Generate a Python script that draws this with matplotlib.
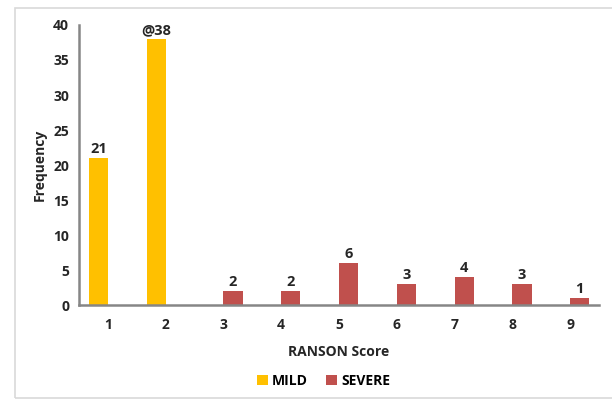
import matplotlib
matplotlib.use('Agg')
import matplotlib.pyplot as plt
from matplotlib.patches import Rectangle
import numpy as np

# RANSON score frequencies
scores = [1, 2, 3, 4, 5, 6, 7, 8, 9]
mild = [21, 38, 0, 0, 0, 0, 0, 0, 0]
severe = [0, 0, 2, 2, 6, 3, 4, 3, 1]
mild_labels = ['21', '@38', '', '', '', '', '', '', '']
severe_labels = ['', '', '2', '2', '6', '3', '4', '3', '1']
yticks = [0, 5, 10, 15, 20, 25, 30, 35, 40]

plt.rcParams['font.family'] = ['Open Sans', 'DejaVu Sans']
plt.rcParams['font.weight'] = 'bold'

fig = plt.figure(figsize=(6.12, 4.03), dpi=100)
ax = fig.add_axes([0.129, 0.243, 0.850, 0.695])

# light frame around the chart area
fig.patches.append(Rectangle((15 / 612, 5 / 403), 1.0, 390 / 403,
                             transform=fig.transFigure, fill=False,
                             edgecolor='#d9d9d9', linewidth=1.2))

x = np.array(scores)
w = 0.33
b1 = ax.bar(x - w / 2, mild, w, color='#FFC000', label='MILD')
b2 = ax.bar(x + w / 2, severe, w, color='#C0504D', label='SEVERE')

for bars, labels in [(b1, mild_labels), (b2, severe_labels)]:
    for rect, lab in zip(bars, labels):
        if lab:
            ax.text(rect.get_x() + rect.get_width() / 2, rect.get_height() + 0.3,
                    lab, ha='center', va='bottom', fontsize=10.5,
                    fontweight='bold', color='#262626')

ax.set_xlim(0.5, 9.5)
ax.set_ylim(0, 40)
ax.set_xticks(scores)
ax.set_yticks(yticks)
ax.tick_params(length=0, labelsize=10, colors='#262626')
ax.tick_params(axis='x', pad=9)
ax.tick_params(axis='y', pad=7)

for s in ['top', 'right']:
    ax.spines[s].set_visible(False)
for s in ['left', 'bottom']:
    ax.spines[s].set_color('#868686')
    ax.spines[s].set_linewidth(1.8)

ax.set_xlabel('RANSON Score', fontsize=10, fontweight='bold',
              color='#262626', labelpad=10)
ax.set_ylabel('Frequency', fontsize=10, fontweight='bold',
              color='#262626', labelpad=5)

ax.legend(loc='center', bbox_to_anchor=(0.47, -0.27), ncol=2,
          frameon=False, fontsize=10, handlelength=0.8, handleheight=0.8,
          handletextpad=0.3, columnspacing=1.3)

fig.savefig('out.png', dpi=100)
